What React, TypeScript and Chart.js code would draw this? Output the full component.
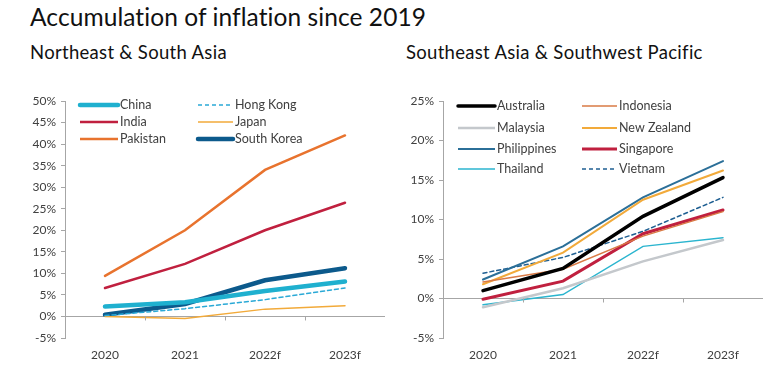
import React, { useEffect, useRef } from "react";
import { Chart, registerables } from "chart.js";

Chart.register(...registerables);

const years = ["2020", "2021", "2022f", "2023f"];

// Northeast & South Asia (% cumulative since 2019)
const china = [2.3, 3.3, 5.9, 8.1];
const hongKong = [0.2, 1.8, 3.9, 6.6];
const india = [6.6, 12.2, 20.0, 26.4];
const japan = [0.0, -0.5, 1.7, 2.5];
const pakistan = [9.4, 20.0, 34.0, 42.0];
const southKorea = [0.4, 2.9, 8.4, 11.2];

// Southeast Asia & Southwest Pacific
const australia = [1.0, 3.8, 10.4, 15.3];
const indonesia = [2.1, 3.7, 7.9, 11.0];
const malaysia = [-1.1, 1.3, 4.7, 7.4];
const newZealand = [1.8, 5.8, 12.5, 16.2];
const philippines = [2.4, 6.6, 12.8, 17.4];
const singapore = [-0.1, 2.2, 8.2, 11.2];
const thailand = [-0.8, 0.5, 6.6, 7.7];
const vietnam = [3.2, 5.2, 8.5, 12.8];

const leftTicks = { min: -5, max: 50, step: 5 };
const rightTicks = { min: -5, max: 25, step: 5 };

const FONT = "Lato, 'Open Sans', sans-serif";
const TXT = "#404040";
const AXIS = "#a6a6a6";

type DS = { label: string; data: number[]; color: string; width: number; dash?: number[] };

const leftSeries: DS[] = [
  { label: "China", data: china, color: "#1fb0cf", width: 4.5 },
  { label: "Hong Kong", data: hongKong, color: "#2aa9d6", width: 1.5, dash: [4, 3] },
  { label: "India", data: india, color: "#c0203f", width: 2.5 },
  { label: "Japan", data: japan, color: "#f2aa3a", width: 1.5 },
  { label: "Pakistan", data: pakistan, color: "#e8732e", width: 2.5 },
  { label: "South Korea", data: southKorea, color: "#0c5a8c", width: 4.5 },
];

const rightSeries: DS[] = [
  { label: "Australia", data: australia, color: "#000000", width: 3.5 },
  { label: "Indonesia", data: indonesia, color: "#d97a45", width: 1.5 },
  { label: "Malaysia", data: malaysia, color: "#c4c8cc", width: 2.5 },
  { label: "New Zealand", data: newZealand, color: "#f2aa3a", width: 2 },
  { label: "Philippines", data: philippines, color: "#2b6f98", width: 2 },
  { label: "Singapore", data: singapore, color: "#c0203f", width: 3 },
  { label: "Thailand", data: thailand, color: "#2bb5cf", width: 1.5 },
  { label: "Vietnam", data: vietnam, color: "#1f5f92", width: 1.5, dash: [4, 3] },
];

type LegendLayout = { col1Line: number; col1Text: number; col2Line: number; col2Text: number; lineLen1: number; lineLen2: number; rows: number[] };

function makeChart(
  canvas: HTMLCanvasElement,
  series: DS[],
  ticks: { min: number; max: number; step: number },
  yWidth: number,
  padRight: number,
  padTop: number,
  xHeight: number,
  legend: LegendLayout
) {
  const customPlugin = {
    id: "custom",
    afterDraw(chart: any) {
      const ctx = chart.ctx;
      const xs = chart.scales.x;
      const ys = chart.scales.y;
      const y0 = ys.getPixelForValue(0);
      ctx.save();
      ctx.strokeStyle = AXIS;
      ctx.lineWidth = 1;
      for (let i = 0; i < years.length - 1; i++) {
        const x = Math.round((xs.getPixelForValue(i) + xs.getPixelForValue(i + 1)) / 2) + 0.5;
        ctx.beginPath();
        ctx.moveTo(x, y0);
        ctx.lineTo(x, y0 + 4);
        ctx.stroke();
      }
      // legend
      ctx.font = `12.5px ${FONT}`;
      ctx.textBaseline = "middle";
      ctx.fillStyle = TXT;
      series.forEach((s, i) => {
        const col = i % 2;
        const row = Math.floor(i / 2);
        const y = legend.rows[row];
        const lx = col === 0 ? legend.col1Line : legend.col2Line;
        const len = col === 0 ? legend.lineLen1 : legend.lineLen2;
        const tx = col === 0 ? legend.col1Text : legend.col2Text;
        ctx.save();
        ctx.strokeStyle = s.color;
        ctx.lineWidth = s.width;
        ctx.lineCap = s.width > 3 ? "round" : "butt";
        ctx.setLineDash(s.dash || []);
        ctx.beginPath();
        ctx.moveTo(lx, y);
        ctx.lineTo(lx + len, y);
        ctx.stroke();
        ctx.restore();
        ctx.fillStyle = TXT;
        ctx.fillText(s.label, tx, y);
      });
      ctx.restore();
    },
  };

  return new Chart(canvas, {
    type: "line",
    data: {
      labels: years,
      datasets: series.map((s) => ({
        label: s.label,
        data: s.data,
        borderColor: s.color,
        backgroundColor: s.color,
        borderWidth: s.width,
        borderDash: s.dash || [],
        pointRadius: 0,
        tension: 0,
        fill: false,
        borderCapStyle: "round",
      })),
    },
    options: {
      animation: false,
      responsive: false,
      devicePixelRatio: 1,
      layout: { padding: { left: 0, right: padRight, top: padTop, bottom: 0 } },
      plugins: { legend: { display: false }, tooltip: { enabled: false }, title: { display: false } },
      scales: {
        x: {
          type: "category",
          offset: true,
          grid: { display: false, drawTicks: false },
          border: { display: false },
          ticks: { color: TXT, font: { family: FONT, size: 12 }, padding: 10, maxRotation: 0 },
          afterFit: (scale: any) => {
            scale.height = xHeight;
          },
        },
        y: {
          min: ticks.min,
          max: ticks.max,
          grid: {
            color: (c: any) => (c.tick && c.tick.value === 0 ? AXIS : "transparent"),
            tickColor: AXIS,
            tickLength: 4,
            lineWidth: 1,
          },
          border: { display: true, color: AXIS },
          ticks: {
            stepSize: ticks.step,
            color: TXT,
            font: { family: FONT, size: 12 },
            padding: 5,
            callback: (v: any) => `${v}%`,
          },
          afterFit: (scale: any) => {
            scale.width = yWidth;
          },
        },
      },
    } as any,
    plugins: [customPlugin],
  });
}

export default function App() {
  const leftRef = useRef<HTMLCanvasElement>(null);
  const rightRef = useRef<HTMLCanvasElement>(null);

  useEffect(() => {
    const c1 = makeChart(leftRef.current!, leftSeries, leftTicks, 65, 5, 21, 32, {
      col1Line: 80,
      lineLen1: 38,
      col1Text: 120,
      col2Line: 198,
      lineLen2: 35,
      col2Text: 235,
      rows: [25, 42, 59],
    });
    const c2 = makeChart(rightRef.current!, rightSeries, rightTicks, 53, 13, 21, 32, {
      col1Line: 68,
      lineLen1: 37,
      col1Text: 107,
      col2Line: 192,
      lineLen2: 35,
      col2Text: 229,
      rows: [26, 48, 69, 89],
    });
    return () => {
      c1.destroy();
      c2.destroy();
    };
  }, []);

  return (
    <div
      style={{
        position: "fixed",
        left: 0,
        top: 0,
        width: 776,
        height: 379,
        background: "#fff",
        fontFamily: FONT,
        color: "#111",
      }}
    >
      <div style={{ position: "absolute", left: 30, top: 1, fontSize: 24.5, letterSpacing: 0.08, lineHeight: "32px", whiteSpace: "nowrap" }}>
        Accumulation of inflation since 2019
      </div>
      <div style={{ position: "absolute", left: 30, top: 40, fontSize: 18.5, letterSpacing: 0.3, lineHeight: "24px", whiteSpace: "nowrap" }}>
        Northeast &amp; South Asia
      </div>
      <div style={{ position: "absolute", left: 406, top: 40, fontSize: 18.5, letterSpacing: 0.3, lineHeight: "24px", whiteSpace: "nowrap" }}>
        Southeast Asia &amp; Southwest Pacific
      </div>
      <canvas ref={leftRef} width={390} height={290} style={{ position: "absolute", left: 0, top: 80 }} />
      <canvas ref={rightRef} width={386} height={290} style={{ position: "absolute", left: 390, top: 80 }} />
    </div>
  );
}
